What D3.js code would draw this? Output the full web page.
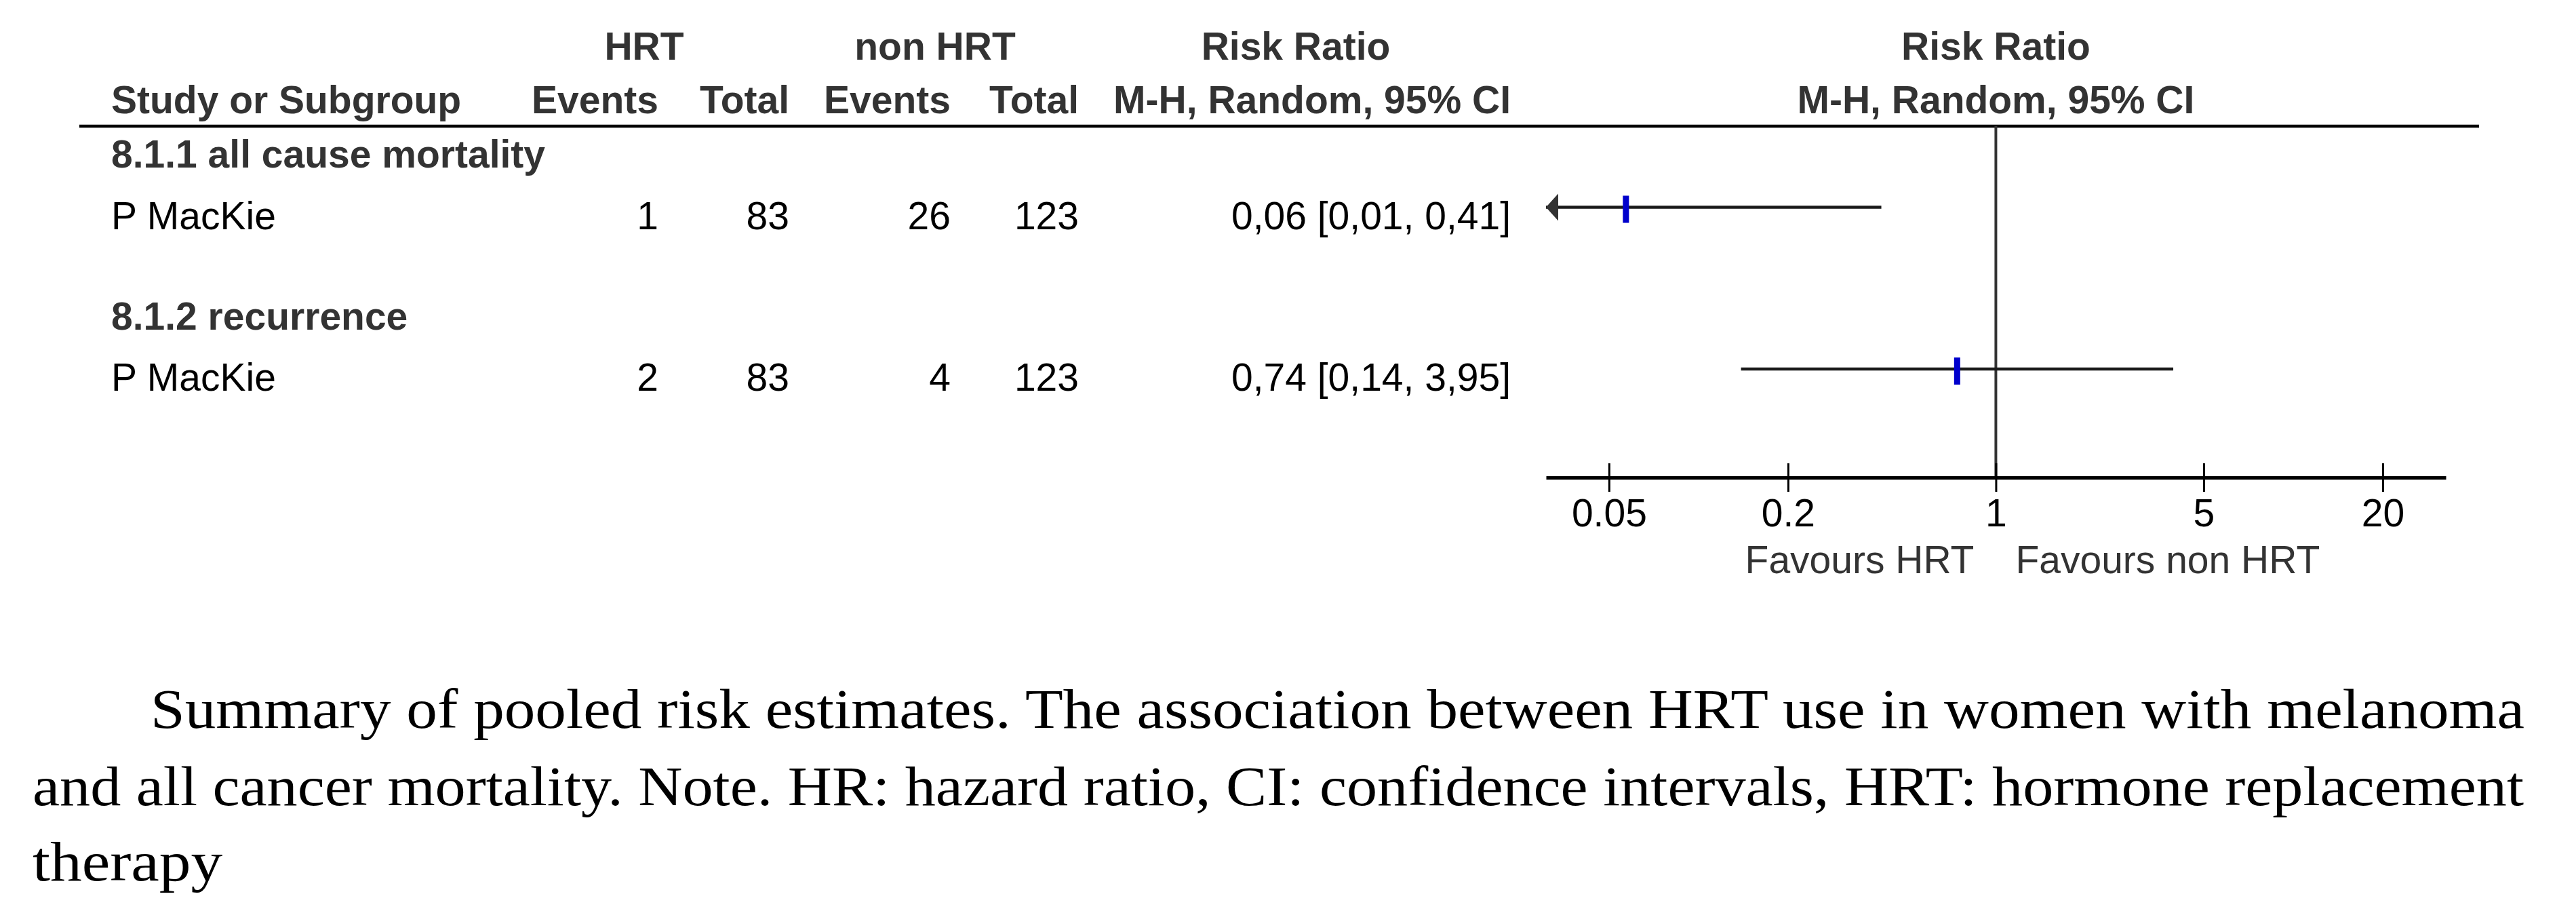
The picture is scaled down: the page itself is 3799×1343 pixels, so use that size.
<!DOCTYPE html>
<html>
<head>
<meta charset="utf-8">
<script src="https://cdn.jsdelivr.net/npm/d3@7"></script>
<style>
  html, body { margin: 0; padding: 0; background: #fff; }
  svg { display: block; }
</style>
</head>
<body>
<div id="chart"></div>
<script>
// ---------------- data ----------------
const subgroups = ["8.1.1 all cause mortality", "8.1.2 recurrence"];
const subgroupRow = [0, 3];
const studies = ["P MacKie", "P MacKie"];
const studyRow = [1, 4];
const hrtEvents = [1, 2];
const hrtTotal = [83, 83];
const nonEvents = [26, 4];
const nonTotal = [123, 123];
const riskRatio = [0.057, 0.741];
const ciLower = [0.0079, 0.139];
const ciUpper = [0.412, 3.95];
const ciLabels = ["0,06 [0,01, 0,41]", "0,74 [0,14, 3,95]"];
const tickValues = [0.05, 0.2, 1, 5, 20];
const tickLabels = ["0.05", "0.2", "1", "5", "20"];
const axisLimits = [0.0307, 32.6];
const headerTop = ["HRT", "non HRT", "Risk Ratio", "Risk Ratio"];
const headerBottom = ["Study or Subgroup", "Events", "Total", "Events", "Total", "M-H, Random, 95% CI", "M-H, Random, 95% CI"];
const favourLabels = ["Favours HRT", "Favours non HRT"];
const captionLines = [
  "Summary of pooled risk estimates. The association between HRT use in women with melanoma",
  "and all cancer mortality. Note. HR: hazard ratio, CI: confidence intervals, HRT: hormone replacement",
  "therapy"
];

// ---------------- layout ----------------
const W = 3799, H = 1343;
const svg = d3.select("#chart").append("svg")
  .attr("width", W).attr("height", H)
  .style("font-family", "'Liberation Sans', Arial, sans-serif");

const x = d3.scaleLog().domain(axisLimits).range([2280, 3607]);
const y = d3.scaleLinear().domain([0, 4]).range([226, 544]);
const axisY = 704;
const FS = 57;

// column right edges
const colRight = [971, 1164, 1402, 1591, 2228];

// header
const hdr = svg.append("g").attr("fill", "#333").attr("font-weight", "bold").attr("font-size", FS);
const topX = [950, 1379, 1911, x(1)];
headerTop.forEach((t, i) => {
  hdr.append("text").attr("x", topX[i]).attr("y", 88).attr("text-anchor", "middle").text(t);
});
hdr.append("text").attr("x", 164).attr("y", 167).text(headerBottom[0]);
[1, 2, 3, 4, 5].forEach((k, i) => {
  hdr.append("text").attr("x", colRight[i]).attr("y", 167).attr("text-anchor", "end").text(headerBottom[k]);
});
hdr.append("text").attr("x", x(1)).attr("y", 167).attr("text-anchor", "middle").text(headerBottom[6]);

// header rule
svg.append("line").attr("x1", 117).attr("x2", 3656).attr("y1", 186).attr("y2", 186)
  .attr("stroke", "#000").attr("stroke-width", 4.5);

// null line at 1
svg.append("line").attr("x1", x(1)).attr("x2", x(1)).attr("y1", 186).attr("y2", axisY)
  .attr("stroke", "#333").attr("stroke-width", 4);

// subgroup labels
subgroups.forEach((s, i) => {
  svg.append("text").attr("x", 164).attr("y", y(subgroupRow[i]) + 21)
    .attr("font-size", FS).attr("font-weight", "bold").attr("fill", "#333").text(s);
});

// study rows
studies.forEach((s, i) => {
  const cy = y(studyRow[i]);
  const ty = cy + 32;
  const g = svg.append("g").attr("font-size", FS).attr("fill", "#000");
  g.append("text").attr("x", 164).attr("y", ty).text(s);
  [hrtEvents[i], hrtTotal[i], nonEvents[i], nonTotal[i], ciLabels[i]].forEach((v, k) => {
    g.append("text").attr("x", colRight[k]).attr("y", ty).attr("text-anchor", "end").text(v);
  });

  const lo = Math.max(ciLower[i], axisLimits[0]);
  const hi = Math.min(ciUpper[i], axisLimits[1]);
  svg.append("line").attr("x1", x(lo)).attr("x2", x(hi)).attr("y1", cy).attr("y2", cy)
    .attr("stroke", "#1a1a1a").attr("stroke-width", 4.5);
  if (ciLower[i] < axisLimits[0]) {
    const tx = x(axisLimits[0]);
    svg.append("path")
      .attr("d", `M${tx},${cy} L${tx + 18},${cy - 20} L${tx + 18},${cy + 20} Z`)
      .attr("fill", "#333");
  }
  svg.append("rect").attr("x", x(riskRatio[i]) - 4.5).attr("y", cy + 3 - 20)
    .attr("width", 9).attr("height", 40).attr("fill", "#0000cc");
});

// axis
const axis = d3.axisBottom(x).tickValues(tickValues)
  .tickFormat((d, i) => tickLabels[i]).tickSizeInner(21).tickSizeOuter(0);
const ag = svg.append("g").attr("transform", `translate(0,${axisY})`).call(axis);
ag.select(".domain").attr("stroke", "#000").attr("stroke-width", 5);
ag.selectAll(".tick line").attr("y1", -21).attr("y2", 21).attr("stroke", "#000").attr("stroke-width", 3);
ag.selectAll(".tick text").attr("y", 72).attr("dy", 0)
  .attr("font-size", FS).attr("fill", "#000")
  .style("font-family", "'Liberation Sans', Arial, sans-serif");

// favours labels
svg.append("text").attr("x", x(1) - 32).attr("y", 845).attr("text-anchor", "end")
  .attr("font-size", FS).attr("fill", "#333").text(favourLabels[0]);
svg.append("text").attr("x", x(1) + 29).attr("y", 845)
  .attr("font-size", FS).attr("fill", "#333").text(favourLabels[1]);

// caption
const cap = svg.append("g").style("font-family", "'Liberation Serif', 'Times New Roman', serif")
  .attr("font-size", 82).attr("fill", "#000");
const capX = [222, 48, 48];
const capY = [1073, 1187, 1298];
const capEnd = [3723, 3722, null];
captionLines.forEach((t, i) => {
  const el = cap.append("text").attr("x", capX[i]).attr("y", capY[i]).text(t);
  if (capEnd[i]) {
    el.attr("textLength", capEnd[i] - capX[i]).attr("lengthAdjust", "spacingAndGlyphs");
  } else {
    const w = el.node().getComputedTextLength();
    el.attr("textLength", w * 1.14).attr("lengthAdjust", "spacingAndGlyphs");
  }
});
</script>
</body>
</html>
